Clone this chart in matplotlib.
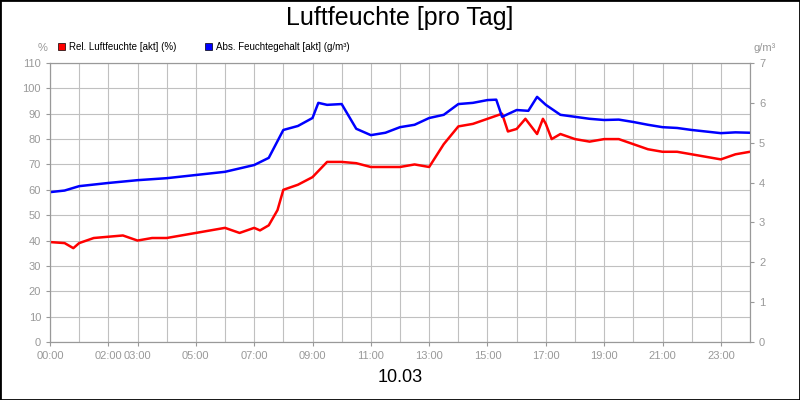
import matplotlib
matplotlib.use("Agg")
import matplotlib.pyplot as plt
from matplotlib.patches import Rectangle

plt.rcParams["font.family"] = ["Liberation Sans", "DejaVu Sans"]

# hours of day
rel_t = [0, 0.5, 0.8, 1.0, 1.5, 2.0, 2.5, 3.0, 3.5, 4.0, 4.5, 5.0, 5.5, 6.0, 6.5, 7.0, 7.2, 7.5,
         7.8, 8.0, 8.5, 9.0, 9.5, 10.0, 10.5, 11.0, 11.5, 12.0, 12.5, 13.0, 13.5, 14.0, 14.5,
         15.0, 15.5, 15.7, 16.0, 16.3, 16.5, 16.7, 16.9, 17.0, 17.2, 17.5, 18.0, 18.5, 19.0,
         19.5, 20.0, 20.5, 21.0, 21.5, 22.0, 22.5, 23.0, 23.5, 24.0]
rel_v = [39.4, 39, 37, 39, 41, 41.5, 42, 40, 41, 41, 42, 43, 44, 45, 43, 45, 44, 46,
         52, 60, 62, 65, 71, 71, 70.5, 69, 69, 69, 70, 69, 78, 85, 86,
         88, 90, 83, 84, 88, 85, 82, 88, 86, 80, 82, 80, 79, 80,
         80, 78, 76, 75, 75, 74, 73, 72, 74, 75]

abs_t = [0, 0.5, 1.0, 2.0, 3.0, 4.0, 5.0, 6.0, 7.0, 7.5, 8.0, 8.5, 9.0, 9.2, 9.5, 10.0,
         10.5, 11.0, 11.5, 12.0, 12.5, 13.0, 13.5, 14.0, 14.5, 15.0, 15.3, 15.5, 16.0, 16.4,
         16.7, 17.0, 17.5, 18.0, 18.5, 19.0, 19.5, 20.0, 20.5, 21.0, 21.5, 22.0, 22.5, 23.0,
         23.5, 24.0]
abs_v = [3.76, 3.8, 3.91, 3.99, 4.06, 4.11, 4.19, 4.27, 4.44, 4.62, 5.32, 5.42, 5.62, 6.0,
         5.95, 5.97, 5.35, 5.19, 5.25, 5.39, 5.45, 5.62, 5.7, 5.97, 6.0, 6.07, 6.08, 5.65,
         5.82, 5.8, 6.15, 5.95, 5.7, 5.65, 5.6, 5.57, 5.58, 5.52, 5.45, 5.39, 5.37, 5.32,
         5.28, 5.24, 5.26, 5.25]

tick_hours = [0, 2, 3, 5, 7, 9, 11, 13, 15, 17, 19, 21, 23]
tick_labels = ["%02d:00" % h for h in tick_hours]

fig = plt.figure(figsize=(8, 4), dpi=100)
fig.patches.append(Rectangle((0, 0), 1, 1, transform=fig.transFigure, fill=False,
                             edgecolor="black", linewidth=2))
ax = fig.add_axes([50 / 800, 58 / 400, 700 / 800, 279 / 400])
ax.plot(rel_t, rel_v, color="#ff0000", linewidth=1.8)
ax.set_xlim(0, 24)
ax.set_ylim(0, 110)
ax.set_yticks(range(0, 111, 10))
ax.set_xticks(range(0, 25), minor=True)
ax.set_xticks(tick_hours)
ax.set_xticklabels(tick_labels)
ax.grid(True, which="both", color="#c0c0c0", linewidth=0.8)
ax.set_axisbelow(True)

ax2 = ax.twinx()
ax2.plot(abs_t, abs_v, color="#0000ff", linewidth=1.8)
ax2.set_ylim(0, 7)
ax2.set_yticks(range(0, 8))

for a in (ax, ax2):
    a.tick_params(labelsize=8, colors="#999999", length=3)
    a.tick_params(which="minor", length=0)
    for s in a.spines.values():
        s.set_color("#999999")

fig.text(0.5, 0.955, "Luftfeuchte [pro Tag]", ha="center", va="center", fontsize=18)
fig.text(0.5, 0.055, "10.03", ha="center", va="center", fontsize=13)
fig.text(43 / 800, 0.88, "%", ha="center", va="center", fontsize=8, color="#999999")
fig.text(765 / 800, 0.88, "g/m³", ha="center", va="center", fontsize=8, color="#999999")

fig.patches.append(Rectangle((58 / 800, 350 / 400), 7 / 800, 7 / 400, transform=fig.transFigure,
                             facecolor="#ff0000", edgecolor="black", linewidth=0.5))
fig.text(69 / 800, 353.5 / 400, "Rel. Luftfeuchte [akt] (%)", va="center", fontsize=7)
fig.patches.append(Rectangle((205 / 800, 350 / 400), 7 / 800, 7 / 400, transform=fig.transFigure,
                             facecolor="#0000ff", edgecolor="black", linewidth=0.5))
fig.text(216 / 800, 353.5 / 400, "Abs. Feuchtegehalt [akt] (g/m³)", va="center", fontsize=7)

fig.savefig("out.png", dpi=100)
